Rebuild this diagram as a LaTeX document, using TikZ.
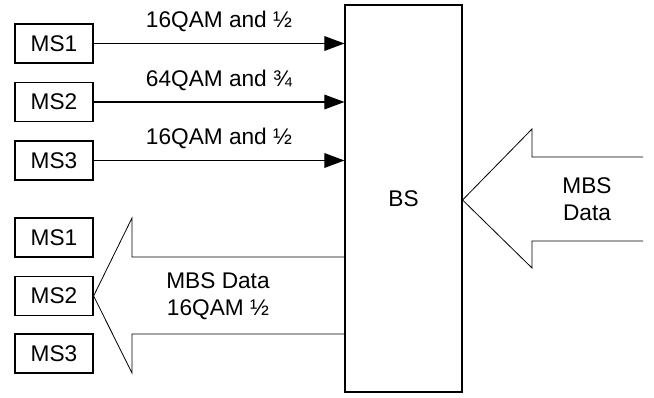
\documentclass[tikz,border=0pt]{standalone}
\usepackage{fontspec}
\setmainfont{Liberation Sans}
\usetikzlibrary{arrows.meta}
\begin{document}
\begin{tikzpicture}[x=0.75pt,y=-0.75pt,
  msbox/.style={draw,line width=0.9pt,minimum width=58.5pt,minimum height=29.25pt,inner sep=0pt,font=\fontsize{17}{20}\selectfont},
  bsbox/.style={draw,line width=1.1pt,minimum width=87.5pt,minimum height=290pt,inner sep=0pt,font=\fontsize{17}{20}\selectfont},
  lbl/.style={font=\fontsize{17}{20}\selectfont,inner sep=0pt,align=center},
  link/.style={line width=0.8pt,-{Triangle[length=15pt,width=11pt]}},
  bigarrow/.style={line width=0.6pt}]
\useasboundingbox (0,0) rectangle (654,398);
% base station
\node[bsbox] (BS) at (403.5,198.5) {BS};
% uplink stations
\node[msbox] (U1) at (54,43.5) {MS1};
\node[msbox] (U2) at (54,102) {MS2};
\node[msbox] (U3) at (54,160.5) {MS3};
\coordinate (E1) at (BS.west |- U1.east);
\coordinate (E2) at (BS.west |- U2.east);
\coordinate (E3) at (BS.west |- U3.east);
\draw[link] (U1.east) -- (E1);
\draw[link] (U2.east) -- (E2);
\draw[link] (U3.east) -- (E3);
\node[lbl] (L1) at (219,21) {16QAM and ½};
\node[lbl] (L2) at (219,80) {64QAM and ¾};
\node[lbl] (L3) at (219,138) {16QAM and ½};
% downlink stations
\node[msbox] (D1) at (54,237.5) {MS1};
\node[msbox] (D2) at (54,296) {MS2};
\node[msbox] (D3) at (54,353.5) {MS3};
% left big arrow (BS -> MS)
\draw[bigarrow] (BS.west |- 0,257) -- (132,257) -- (132,218) -- (D2.east) -- (132,373) -- (132,334) -- (BS.west |- 0,334);
\node[lbl] (LD) at (218,296) {MBS Data\\16QAM ½};
% right big arrow (into BS)
\draw[bigarrow] (643,157) -- (532,157) -- (532,129) -- (BS.east |- 0,200) -- (532,268) -- (532,241) -- (643,241);
\node[lbl] (RD) at (587,199) {MBS\\Data};
\end{tikzpicture}
\end{document}
